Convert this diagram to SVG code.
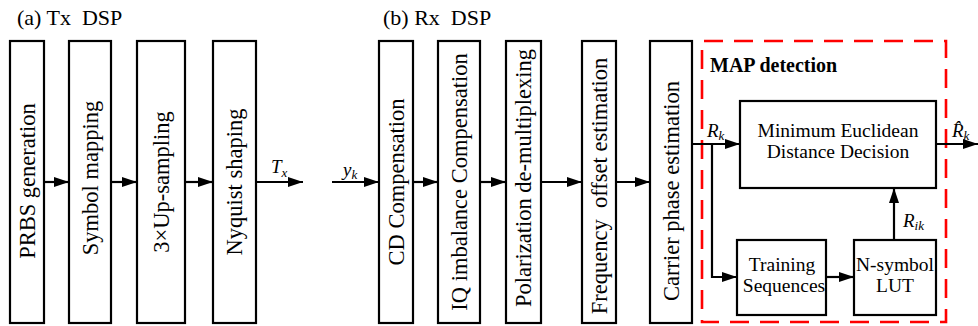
<svg xmlns="http://www.w3.org/2000/svg" width="978" height="326" viewBox="0 0 978 326">
<style>
.box{fill:#fff;stroke:#000;stroke-width:2.2}
.vt{font-family:"Liberation Serif","Times New Roman",serif;font-size:22.5px;text-anchor:middle;fill:#000}
.ht{font-family:"Liberation Serif","Times New Roman",serif;font-size:19.5px;text-anchor:middle;fill:#000}
.title{font-family:"Liberation Serif","Times New Roman",serif;font-size:22px;fill:#000}
.it{font-family:"Liberation Serif","Times New Roman",serif;font-style:italic;font-size:19px;fill:#000}
.sub{font-size:13px}
.arr{fill:none;stroke:#000;stroke-width:2.2;marker-end:url(#ah)}
</style>
<defs>
<marker id="ah" markerUnits="userSpaceOnUse" markerWidth="16" markerHeight="12" refX="15" refY="5" orient="auto">
<path d="M0,0 L15,5 L0,10 z" fill="#000"/>
</marker>
</defs>
<rect width="978" height="326" fill="#fff"/>

<text class="title" x="17" y="25" xml:space="preserve">(a) Tx  DSP</text>
<text class="title" x="383" y="25" xml:space="preserve">(b) Rx  DSP</text>

<g id="prbs"><rect class="box" x="10" y="41" width="34" height="282"/><text class="vt" transform="translate(27,181) rotate(-90)" dy="0.34em">PRBS generation</text></g>
<g id="symmap"><rect class="box" x="69" y="41" width="42" height="282"/><text class="vt" transform="translate(90,178) rotate(-90)" dy="0.34em">Symbol mapping</text></g>
<g id="upsamp"><rect class="box" x="137" y="41" width="48" height="282"/><text class="vt" transform="translate(161,182) rotate(-90)" dy="0.34em">3×Up-sampling</text></g>
<g id="nyquist"><rect class="box" x="213" y="41" width="43" height="282"/><text class="vt" transform="translate(234.5,182) rotate(-90)" dy="0.34em">Nyquist shaping</text></g>

<g id="cd"><rect class="box" x="379" y="41" width="34" height="282"/><text class="vt" transform="translate(396,182) rotate(-90)" dy="0.34em">CD Compensation</text></g>
<g id="iq"><rect class="box" x="438" y="41" width="42" height="282"/><text class="vt" transform="translate(459,182) rotate(-90)" dy="0.34em">IQ imbalance Compensation</text></g>
<g id="pol"><rect class="box" x="506" y="41" width="35" height="282"/><text class="vt" transform="translate(523.5,178) rotate(-90)" dy="0.34em">Polarization de-multiplexing</text></g>
<g id="freq"><rect class="box" x="582" y="41" width="34" height="282"/><text class="vt" transform="translate(599,186) rotate(-90)" dy="0.34em" xml:space="preserve">Frequency  offset estimation</text></g>
<g id="carrier"><rect class="box" x="650" y="41" width="42" height="282"/><text class="vt" transform="translate(671,191) rotate(-90)" dy="0.34em">Carrier phase estimation</text></g>

<g id="map">
<rect x="702" y="41" width="244" height="281" fill="none" stroke="#ff0000" stroke-width="2.6" stroke-dasharray="19 11" stroke-dashoffset="-2"/>
<text x="710" y="72" font-family="'Liberation Serif','Times New Roman',serif" font-size="20" font-weight="bold" fill="#000">MAP detection</text>
</g>
<g id="med"><rect class="box" x="740" y="101" width="196" height="87"/><text class="ht" x="838" y="137">Minimum Euclidean</text><text class="ht" x="838" y="158">Distance Decision</text></g>
<g id="training"><rect class="box" x="737" y="240" width="89" height="75"/><text class="ht" x="782" y="271">Training</text><text class="ht" x="784" y="292">Sequences</text></g>
<g id="lut"><rect class="box" x="854" y="240" width="82" height="75"/><text class="ht" x="895" y="271">N-symbol</text><text class="ht" x="895" y="292">LUT</text></g>

<g id="connectors">
<line class="arr" x1="44" y1="182" x2="69" y2="182"/>
<line class="arr" x1="111" y1="182" x2="137" y2="182"/>
<line class="arr" x1="185" y1="182" x2="213" y2="182"/>
<line class="arr" x1="256" y1="182" x2="303" y2="182"/>
<line class="arr" x1="332" y1="182" x2="379" y2="182"/>
<line class="arr" x1="413" y1="182" x2="438" y2="182"/>
<line class="arr" x1="480" y1="182" x2="506" y2="182"/>
<line class="arr" x1="541" y1="182" x2="582" y2="182"/>
<line class="arr" x1="616" y1="182" x2="650" y2="182"/>
<line class="arr" x1="692" y1="144" x2="740" y2="144"/>
<polyline class="arr" points="712,144 712,277 737,277"/>
<line class="arr" x1="826" y1="277" x2="854" y2="277"/>
<line class="arr" x1="894" y1="240" x2="894" y2="188"/>
<line class="arr" x1="936" y1="144" x2="978" y2="144"/>
<text class="it" x="271" y="173">T<tspan class="sub" dy="4">x</tspan></text>
<text class="it" x="343" y="176">y<tspan class="sub" dy="3">k</tspan></text>
<text class="it" x="707" y="137">R<tspan class="sub" dy="3">k</tspan></text>
<text class="it" x="903" y="227">R<tspan class="sub" dy="3">ik</tspan></text>
<text class="it" x="952" y="137">R&#x302;<tspan class="sub" dy="3">k</tspan></text>
</g>
</svg>
